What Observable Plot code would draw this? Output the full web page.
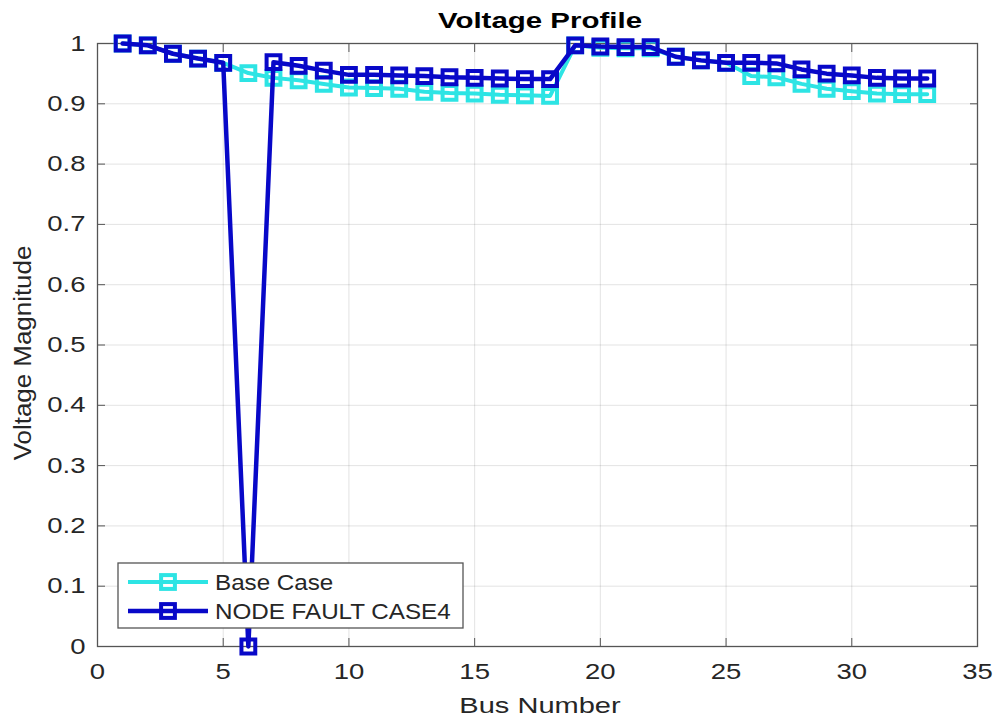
<!DOCTYPE html>
<html><head><meta charset="utf-8">
<script src="https://cdn.jsdelivr.net/npm/d3@7"></script>
<script src="https://cdn.jsdelivr.net/npm/@observablehq/plot@0.6"></script>
<style>html,body{margin:0;padding:0;background:#fff}</style>
</head><body><div id="chart"></div>
<script>
const buses = [1,2,3,4,5,6,7,8,9,10,11,12,13,14,15,16,17,18,19,20,21,22,23,24,25,26,27,28,29,30,31,32,33];
const baseCase = [1.000,0.997,0.983,0.975,0.968,0.951,0.943,0.939,0.933,0.927,0.926,0.925,0.920,0.918,0.917,0.915,0.914,0.913,0.997,0.993,0.992,0.992,0.978,0.972,0.968,0.946,0.944,0.933,0.925,0.921,0.917,0.916,0.916];
const faultCase = [1.000,0.997,0.983,0.975,0.968,0.000,0.969,0.963,0.955,0.948,0.948,0.947,0.946,0.944,0.943,0.942,0.941,0.941,0.997,0.995,0.994,0.994,0.978,0.972,0.968,0.968,0.967,0.957,0.950,0.947,0.943,0.942,0.942];
const xTicks = [0,5,10,15,20,25,30,35];
const yTicks = [0,0.1,0.2,0.3,0.4,0.5,0.6,0.7,0.8,0.9,1];
const yTickLabels = ["0","0.1","0.2","0.3","0.4","0.5","0.6","0.7","0.8","0.9","1"];
const seriesNames = ["Base Case","NODE FAULT CASE4"];
const seriesColors = ["#2de4e4","#0808c8"];
const titleText = "Voltage Profile";
const xLabel = "Bus Number";
const yLabel = "Voltage Magnitude";

const baseData = buses.map((b,i)=>({bus:b, v:baseCase[i]}));
const faultData = buses.map((b,i)=>({bus:b, v:faultCase[i]}));
const yFmt = d => yTickLabels[yTicks.indexOf(d)] ?? String(d);

const chart = Plot.plot({
  width: 996, height: 721,
  marginLeft: 97, marginRight: 19, marginTop: 43, marginBottom: 75,
  x: {domain: [0, 35]},
  y: {domain: [0, 1]},
  style: {fontFamily: "'Liberation Sans', Arial, sans-serif", fontSize: "22px", color: "#262626", background: "#fff", overflow: "visible"},
  marks: [
    Plot.gridX(xTicks, {stroke: "#262626", strokeOpacity: 0.13}),
    Plot.gridY(yTicks, {stroke: "#262626", strokeOpacity: 0.13}),
    Plot.frame({stroke: "#555", strokeWidth: 1.3}),
    Plot.axisX(xTicks, {anchor: "bottom", tickSize: -8, tickPadding: 25, label: null, tickFormat: d => String(d), stroke: "#555"}),
    Plot.axisX(xTicks, {anchor: "top", tickSize: -8, label: null, tickFormat: () => "", stroke: "#555"}),
    Plot.axisY(yTicks, {anchor: "left", tickSize: -8, tickPadding: 20, label: null, tickFormat: yFmt, stroke: "#555"}),
    Plot.axisY(yTicks, {anchor: "right", tickSize: -8, label: null, tickFormat: () => "", stroke: "#555"}),
    Plot.line(baseData, {x: "bus", y: "v", stroke: seriesColors[0], strokeWidth: 4}),
    Plot.dot(baseData, {x: "bus", y: "v", symbol: "square", r: 7.8, stroke: seriesColors[0], strokeWidth: 4, fill: "none"}),
    Plot.line(faultData, {x: "bus", y: "v", stroke: seriesColors[1], strokeWidth: 4.5}),
    Plot.dot(faultData, {x: "bus", y: "v", symbol: "square", r: 7.8, stroke: seriesColors[1], strokeWidth: 4, fill: "none"})
  ]
});
document.getElementById("chart").appendChild(chart);

// widen tick labels horizontally like the reference rendering
function stretch(sel, s) {
  chart.querySelectorAll(sel).forEach(t => {
    const x = parseFloat(t.getAttribute("x")) || 0;
    const tr = t.getAttribute("transform") || "";
    t.setAttribute("transform", `${tr} translate(${x},0) scale(${s},1) translate(${-x},0)`);
  });
}
stretch('g[aria-label="x-axis tick label"] text', 1.25);
stretch('g[aria-label="y-axis tick label"] text', 1.25);

const svg = d3.select(chart);
const ff = "'Liberation Sans', Arial, sans-serif";
svg.append("text").text(titleText)
  .attr("transform", "translate(540,28) scale(1.34,1)")
  .attr("text-anchor", "middle").attr("font-weight", "bold").attr("font-size", 22)
  .attr("font-family", ff).attr("fill", "#000");
svg.append("text").text(xLabel)
  .attr("transform", "translate(540,713) scale(1.32,1)")
  .attr("text-anchor", "middle").attr("font-size", 22)
  .attr("font-family", ff).attr("fill", "#262626");
svg.append("text").text(yLabel)
  .attr("transform", "translate(31,353) rotate(-90) scale(1.08,1)")
  .attr("text-anchor", "middle").attr("font-size", 24)
  .attr("font-family", ff).attr("fill", "#262626");

// legend
const lg = svg.append("g");
lg.append("rect").attr("x", 118).attr("y", 563).attr("width", 345).attr("height", 65)
  .attr("fill", "#fff").attr("stroke", "#555").attr("stroke-width", 1.3);
const rowsY = [582, 611];
seriesNames.forEach((name, i) => {
  const y = rowsY[i];
  lg.append("line").attr("x1", 128).attr("x2", 208).attr("y1", y).attr("y2", y)
    .attr("stroke", seriesColors[i]).attr("stroke-width", i ? 4.5 : 4);
  lg.append("rect").attr("x", 168 - 6.9).attr("y", y - 6.9).attr("width", 13.8).attr("height", 13.8)
    .attr("fill", "none").attr("stroke", seriesColors[i]).attr("stroke-width", 4);
  lg.append("text").text(name)
    .attr("transform", `translate(215,${y + 8}) scale(1.1,1)`)
    .attr("text-anchor", "start")
    .attr("font-size", 22).attr("font-family", ff).attr("fill", "#262626");
});
</script>
</body></html>
